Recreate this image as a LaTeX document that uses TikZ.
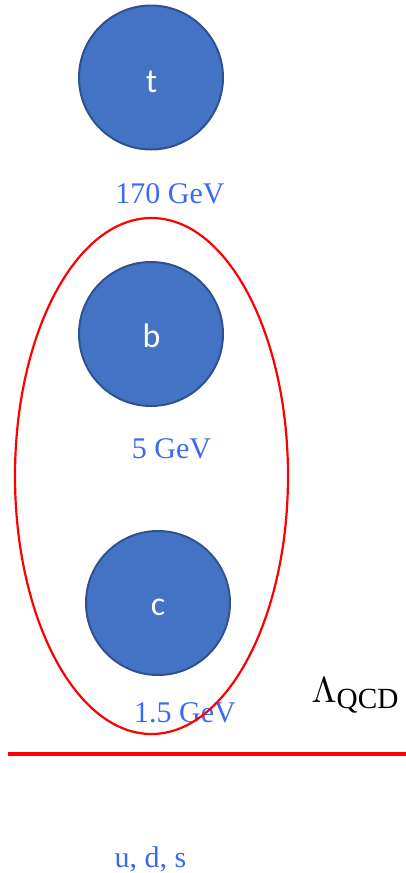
\documentclass[tikz,border=0pt]{standalone}
\usepackage{fontspec}
\setmainfont{Liberation Serif}
\newfontfamily\labelfont{Carlito}
\begin{document}
\begin{tikzpicture}[x=1pt,y=-1pt,
  quark/.style={circle,draw=qborder,line width=2pt,fill=qfill,minimum size=144pt,inner sep=0pt},
  qname/.style={text=white,font=\labelfont\fontsize{34}{36}\selectfont,inner sep=0pt},
  mass/.style={text=qtext,font=\fontsize{30}{32}\selectfont,inner sep=0pt,anchor=base},
  redline/.style={draw=red,line width=2.2pt}]
\definecolor{qfill}{RGB}{68,114,196}
\definecolor{qborder}{RGB}{47,82,143}
\definecolor{qtext}{RGB}{58,106,240}
\useasboundingbox (0,0) rectangle (406,873);
\node[quark] (t) at (151,77.5) {};
\node[quark] (b) at (151,334) {};
\node[quark] (c) at (158,603) {};
\node[qname] (tn) at (151.5,82) {t};
\node[qname] (bn) at (151.5,336) {b};
\node[qname] (cn) at (158,607) {c};
\node[mass] (mt) at (170,203) {170 GeV};
\node[mass] (mb) at (171.5,458) {5 GeV};
\node[mass] (mc) at (185,722) {1.5 GeV};
\node[mass] (ml) at (150.5,867) {u, d, s};
\node[inner sep=0pt,scale=3.6,anchor=base west] (lq) at (311,702) {$\Lambda_{\scalebox{1.16}{$\scriptstyle\mathrm{QCD}$}}$};
\draw[redline] (151.5,476) ellipse [x radius=136.5, y radius=258];
\coordinate (l1) at (8,754);
\coordinate (l2) at (406,754);
\draw[redline,line width=3.5pt] (l1) -- (l2);
\end{tikzpicture}
\end{document}
